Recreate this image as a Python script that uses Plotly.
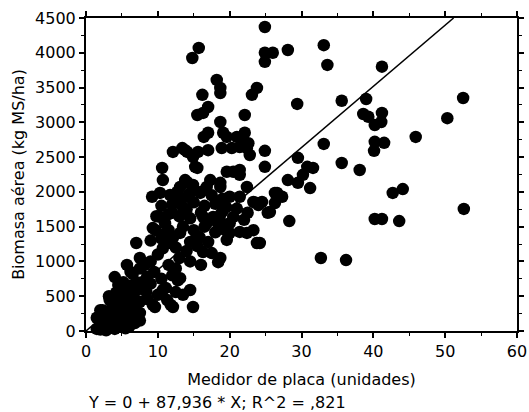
import plotly.graph_objects as go

# Medidor de placa (unidades) vs biomasa aérea (kg MS/ha)
medidor = [
    24.9, 24.9, 26.0, 24.9, 28.1, 33.1, 33.6, 41.2, 29.4, 35.6, 39.0, 52.5, 50.3, 45.9,
    38.6, 39.3, 41.2, 40.2, 41.1, 40.2, 41.5, 40.1, 33.1, 35.6, 38.1, 29.5, 30.8, 31.6,
    28.1, 29.5, 31.2, 30.2, 24.9, 24.9, 26.6, 27.3, 24.5, 26.3, 42.7, 44.1, 52.6, 40.2,
    41.2, 43.6, 28.3, 24.2, 32.7, 36.2, 25.3,
    14.8, 15.7, 18.2, 18.7, 18.7, 16.2, 17.0, 16.3, 15.5, 18.7, 22.1, 23.1, 23.8, 17.0,
    16.4, 19.1, 19.6, 22.1, 21.9, 15.6, 18.9, 20.3, 21.4, 22.4, 22.8, 22.6, 12.1, 13.4,
    14.1, 14.9, 15.2, 10.6, 10.7, 14.1, 13.1, 19.6, 20.5, 21.4, 17.3, 16.8, 18.7, 9.2,
    10.3, 11.7, 12.7, 14.5, 15.9, 20.0, 21.4, 23.8, 21.0, 13.8, 17.0, 15.5, 21.4, 13.8,
    18.7, 22.4, 23.3, 24.0, 25.6, 26.3, 14.9, 14.1, 18.7, 22.4, 23.3, 23.8, 18.7, 16.3,
    14.5, 14.9, 13.1, 19.4, 17.7, 9.3, 11.0, 10.3, 12.1, 13.1, 11.7, 7.0, 5.7, 4.0,
    9.6, 12.1, 12.8, 10.7, 11.3, 7.5, 14.5, 17.5, 18.4, 16.3, 17.7, 18.9, 21.4, 19.6,
    20.0, 9.7, 10.7, 9.3, 11.8, 11.1, 8.4, 7.0, 13.5,
    10.5, 12.0, 13.5, 15.0, 16.5, 18.0, 19.5, 21.0, 22.5,
    11.5, 13.0, 14.5, 16.0, 19.0, 20.5, 22.0,
    11.5, 13.5, 15.0, 16.5, 18.0, 15.8,
    9.0, 10.5, 12.5, 14.0, 15.5, 17.0, 13.0,
    7.5, 9.0, 10.0, 11.5, 12.5, 14.5, 16.0,
    6.5, 7.5, 8.5, 9.5, 10.5, 12.0, 7.0,
    5.0, 6.0, 7.0, 8.0, 9.0, 10.0, 12.5,
    3.5, 4.5, 5.5, 6.5, 7.5, 8.5, 5.0, 6.0,
    2.5, 3.0, 3.5, 4.0, 4.5, 5.5, 6.0, 6.5, 7.5, 3.0,
    1.5, 2.0, 2.5, 3.0, 3.5, 4.0, 5.0, 2.0, 4.5, 5.5, 6.0, 2.8,
    4.5, 3.3, 2.0, 1.5, 6.8,
    3.8, 4.2, 5.2, 6.2, 2.3, 3.2, 5.8, 6.8, 7.8, 8.2, 4.8, 3.6,
    16.0, 17.5, 19.0, 13.0, 12.0, 18.5, 20.0, 11.0, 15.0, 14.0, 16.8, 9.8,
]
biomasa = [
    4370, 4000, 4000, 3870, 4040, 4110, 3825, 3800, 3265, 3310, 3335, 3350, 3060, 2790,
    3120, 3080, 3135, 2960, 3005, 2720, 2705, 2590, 2690, 2415, 2315, 2490, 2360, 2345,
    2170, 2130, 2055, 2245, 2590, 2360, 1985, 1930, 1855, 1840, 1985, 2040, 1755, 1610,
    1610, 1580, 1580, 1265, 1050, 1020, 1700,
    3925, 4070, 3610, 3495, 3420, 3395, 3220, 3135, 3105, 3005, 3105, 3395, 3495, 2850,
    2790, 2850, 2790, 2850, 2745, 2575, 2630, 2630, 2645, 2630, 2530, 2700, 2575, 2630,
    2575, 2500, 2360, 2345, 2170, 2140, 2070, 2290, 2290, 2315, 2170, 2070, 2070, 1930,
    1985, 1955, 2000, 1985, 1985, 1930, 1930, 1840, 2790, 2600, 2600, 2345, 2245, 2170,
    2130, 2070, 1855, 1810, 1710, 1985, 2100, 1930, 1670, 1410, 1450, 1265, 1050, 1135,
    590, 345, 760, 1450, 1640, 1480, 1550, 1640, 1340, 1410, 1265, 1265, 950, 775,
    345, 345, 730, 590, 445, 260, 1280, 1120, 990, 1640, 1600, 1550, 1425, 1310,
    1410, 1450, 1190, 375, 375, 620, 560, 200, 520,
    1800, 1820, 1780, 1850, 1800, 1830, 1780, 1760, 1700,
    1680, 1650, 1620, 1700, 1720, 1640, 1600,
    1450, 1500, 1450, 1500, 1420, 1350,
    1300, 1330, 1200, 1150, 1220, 1280, 1050,
    1050, 1000, 1100, 950, 900, 1000, 950,
    820, 900, 780, 850, 750, 800, 700,
    600, 650, 580, 620, 680, 520, 560,
    420, 450, 400, 480, 420, 460, 330, 300,
    200, 260, 180, 250, 150, 200, 120, 250, 150, 120,
    30, 60, 80, 40, 70, 30, 60, 20, 90, 40, 60, 10,
    660, 445, 300, 190, 115,
    350, 550, 700, 850, 300, 500, 500, 350, 700, 950, 250, 120,
    2000, 1950, 1900, 1900, 1700, 1500, 1550, 1400, 1300, 1750, 1550, 1650,
]

# Linear fit through the origin
intercepto = 0
pendiente_txt = "87,936"
r2_txt = ",821"
pendiente = float(pendiente_txt.replace(",", "."))

x_range = [0, 60]
y_range = [0, 4500]
x_fit = [0, (y_range[1] - intercepto) / pendiente]
y_fit = [intercepto + pendiente * v for v in x_fit]

font_family = "DejaVu Sans"

fig = go.Figure()
fig.add_trace(go.Scatter(
    x=medidor, y=biomasa, mode="markers",
    marker=dict(size=12.5, color="black", line=dict(width=0)),
    showlegend=False, cliponaxis=False,
))
fig.add_trace(go.Scatter(
    x=x_fit, y=y_fit, mode="lines",
    line=dict(color="black", width=1.5),
    showlegend=False,
))

axis_common = dict(
    showline=True, linecolor="black", linewidth=2, mirror="ticks",
    ticks="outside", ticklen=5, tickwidth=1.5, tickcolor="black",
    showgrid=False, zeroline=False, automargin=False,
    tickfont=dict(family=font_family, size=16, color="black"),
)

fig.update_xaxes(
    range=x_range, dtick=10, tick0=0,
    minor=dict(dtick=5, ticks="outside", ticklen=3, tickcolor="black", tickwidth=1.2),
    title=dict(text="Medidor de placa (unidades)", standoff=14,
               font=dict(family=font_family, size=16, color="black")),
    **axis_common,
)
fig.update_yaxes(
    range=y_range, dtick=500, tick0=0,
    minor=dict(dtick=250, ticks="outside", ticklen=3, tickcolor="black", tickwidth=1.2),
    title=dict(text="Biomasa aérea (kg MS/ha)", standoff=6,
               font=dict(family=font_family, size=16, color="black")),
    **axis_common,
)

fig.add_annotation(
    text=f"Y = {intercepto} + {pendiente_txt} * X; R^2 = {r2_txt}",
    xref="paper", yref="paper", x=0.0, y=-0.23,
    xanchor="left", yanchor="middle", showarrow=False,
    font=dict(family=font_family, size=16, color="black"),
)

fig.update_layout(
    width=529, height=412,
    margin=dict(l=86, r=12, t=18, b=81),
    plot_bgcolor="white", paper_bgcolor="white",
)

fig.write_html("out.html")
